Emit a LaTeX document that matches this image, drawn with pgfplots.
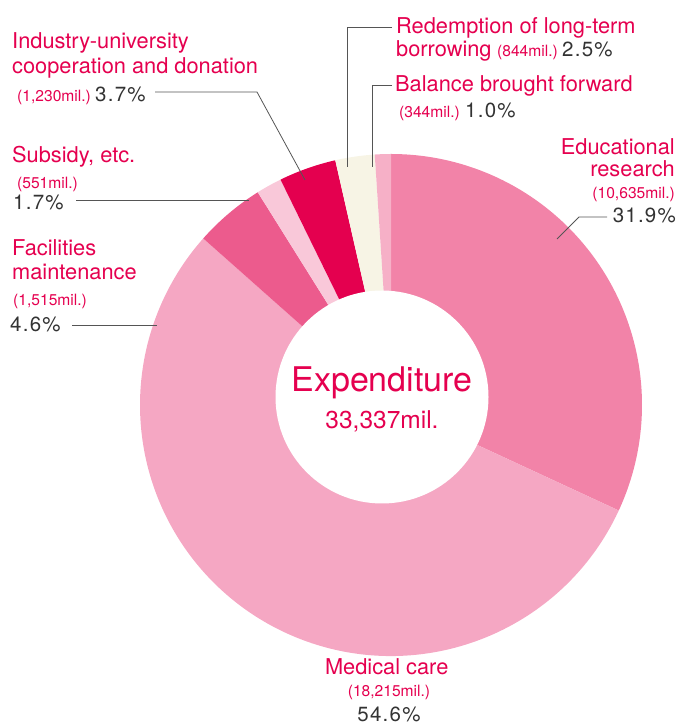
\documentclass[border=0pt]{standalone}
\usepackage{fontspec}
\setmainfont{TeX Gyre Heros}
\newfontfamily\numfont[LetterSpace=6]{TeX Gyre Heros}
\usepackage{pgfplots}
\pgfplotsset{compat=1.18}
\definecolor{lab}{HTML}{E5004F}
\definecolor{num}{HTML}{333333}
\definecolor{lead}{HTML}{555555}
\definecolor{c1}{HTML}{F283A8}
\definecolor{c2}{HTML}{F5A7C3}
\definecolor{c3}{HTML}{EC5B8D}
\definecolor{c4}{HTML}{F9C8D9}
\definecolor{c5}{HTML}{E4004F}
\definecolor{c6}{HTML}{F7F4E5}
\definecolor{c7}{HTML}{F6B0C7}
\begin{document}
\begin{tikzpicture}[
  lbl/.style={text=lab,font=\fontsize{21.8}{25}\selectfont,inner sep=0pt},
  sm/.style={text=lab,font=\fontsize{15.6}{18}\selectfont,inner sep=0pt},
  pct/.style={text=num,font=\numfont\fontsize{20.5}{24}\selectfont,inner sep=0pt},
  ld/.style={draw=lead,line width=0.8pt}]
\begin{axis}[x=1pt,y=1pt,xmin=0,xmax=678,ymin=0,ymax=725,scale only axis,hide axis,clip=false]
\path (axis cs:0,0) rectangle (axis cs:678,725);
\def\cx{391}\def\cy{320}\def\R{251}
\def\total{33334}
% values (mil.) clockwise from 12 o'clock
\foreach \v/\c [remember=\e as \s (initially 90)] in
  {10635/c1, 18215/c2, 1515/c3, 551/c4, 1230/c5, 844/c6, 344/c7} {
  \edef\e{\fpeval{round(\s-360*\v/\total,4)}}
  \edef\tmp{\noexpand\fill[\c] (axis cs:\cx,\cy) -- ++(\s:\R pt) arc[start angle=\s, end angle=\e, radius=\R pt] -- cycle;}
  \tmp
}
\fill[white] (axis cs:382,328) circle[radius=106.5pt];
% leader lines
\draw[ld] (axis cs:155,633) -- (axis cs:257,633) -- (axis cs:305,545);
\draw[ld] (axis cs:76,525) -- (axis cs:249,525);
\draw[ld] (axis cs:72,400) -- (axis cs:157,400);
\draw[ld] (axis cs:392,698) -- (axis cs:347,698) -- (axis cs:347,558);
\draw[ld] (axis cs:392,640) -- (axis cs:372,640) -- (axis cs:372,558);
\draw[ld] (axis cs:607,508) -- (axis cs:579,508) -- (axis cs:557,486);
% labels
\node[lbl,anchor=base west] at (axis cs:12,676) {Industry-university};
\node[lbl,anchor=base west] at (axis cs:12,651.5) {cooperation and donation};
\node[sm,anchor=base west] at (axis cs:17,623) {(1,230mil.)};
\node[pct,anchor=base west] at (axis cs:95,623) {3.7\%};
\node[lbl,anchor=base west] at (axis cs:12,562) {Subsidy, etc.};
\node[sm,anchor=base west] at (axis cs:17,536) {(551mil.)};
\node[pct,anchor=base west] at (axis cs:13,515.7) {1.7\%};
\node[lbl,anchor=base west] at (axis cs:12,469) {Facilities};
\node[lbl,anchor=base west] at (axis cs:12,445.7) {maintenance};
\node[sm,anchor=base west] at (axis cs:13,419) {(1,515mil.)};
\node[pct,anchor=base west] at (axis cs:10,393) {4.6\%};
\node[lbl,anchor=base west] at (axis cs:396,691.7) {Redemption of long-term};
\node[lbl,anchor=base west] at (axis cs:396,668.3) {borrowing};
\node[sm,anchor=base west] at (axis cs:497,668.3) {(844mil.)};
\node[pct,anchor=base west] at (axis cs:562,668.3) {2.5\%};
\node[lbl,anchor=base west] at (axis cs:395,633.3) {Balance brought forward};
\node[sm,anchor=base west] at (axis cs:399,607.7) {(344mil.)};
\node[pct,anchor=base west] at (axis cs:465,607.7) {1.0\%};
\node[lbl,anchor=base east] at (axis cs:675,570) {Educational};
\node[lbl,anchor=base east] at (axis cs:675,548.3) {research};
\node[sm,anchor=base east] at (axis cs:675,526) {(10,635mil.)};
\node[pct,anchor=base east] at (axis cs:676,502.3) {31.9\%};
\node[text=lab,font=\fontsize{34}{40}\selectfont,inner sep=0pt,anchor=base] at (axis cs:382,333.3) {Expenditure};
\node[text=lab,font=\fontsize{24.5}{28}\selectfont,inner sep=0pt,anchor=base] at (axis cs:382,296.7) {33,337mil.};
\node[lbl,anchor=base] at (axis cs:386.7,50) {Medical care};
\node[sm,anchor=base] at (axis cs:389,28.3) {(18,215mil.)};
\node[pct,anchor=base] at (axis cs:389,3) {54.6\%};
\end{axis}
\end{tikzpicture}
\end{document}
